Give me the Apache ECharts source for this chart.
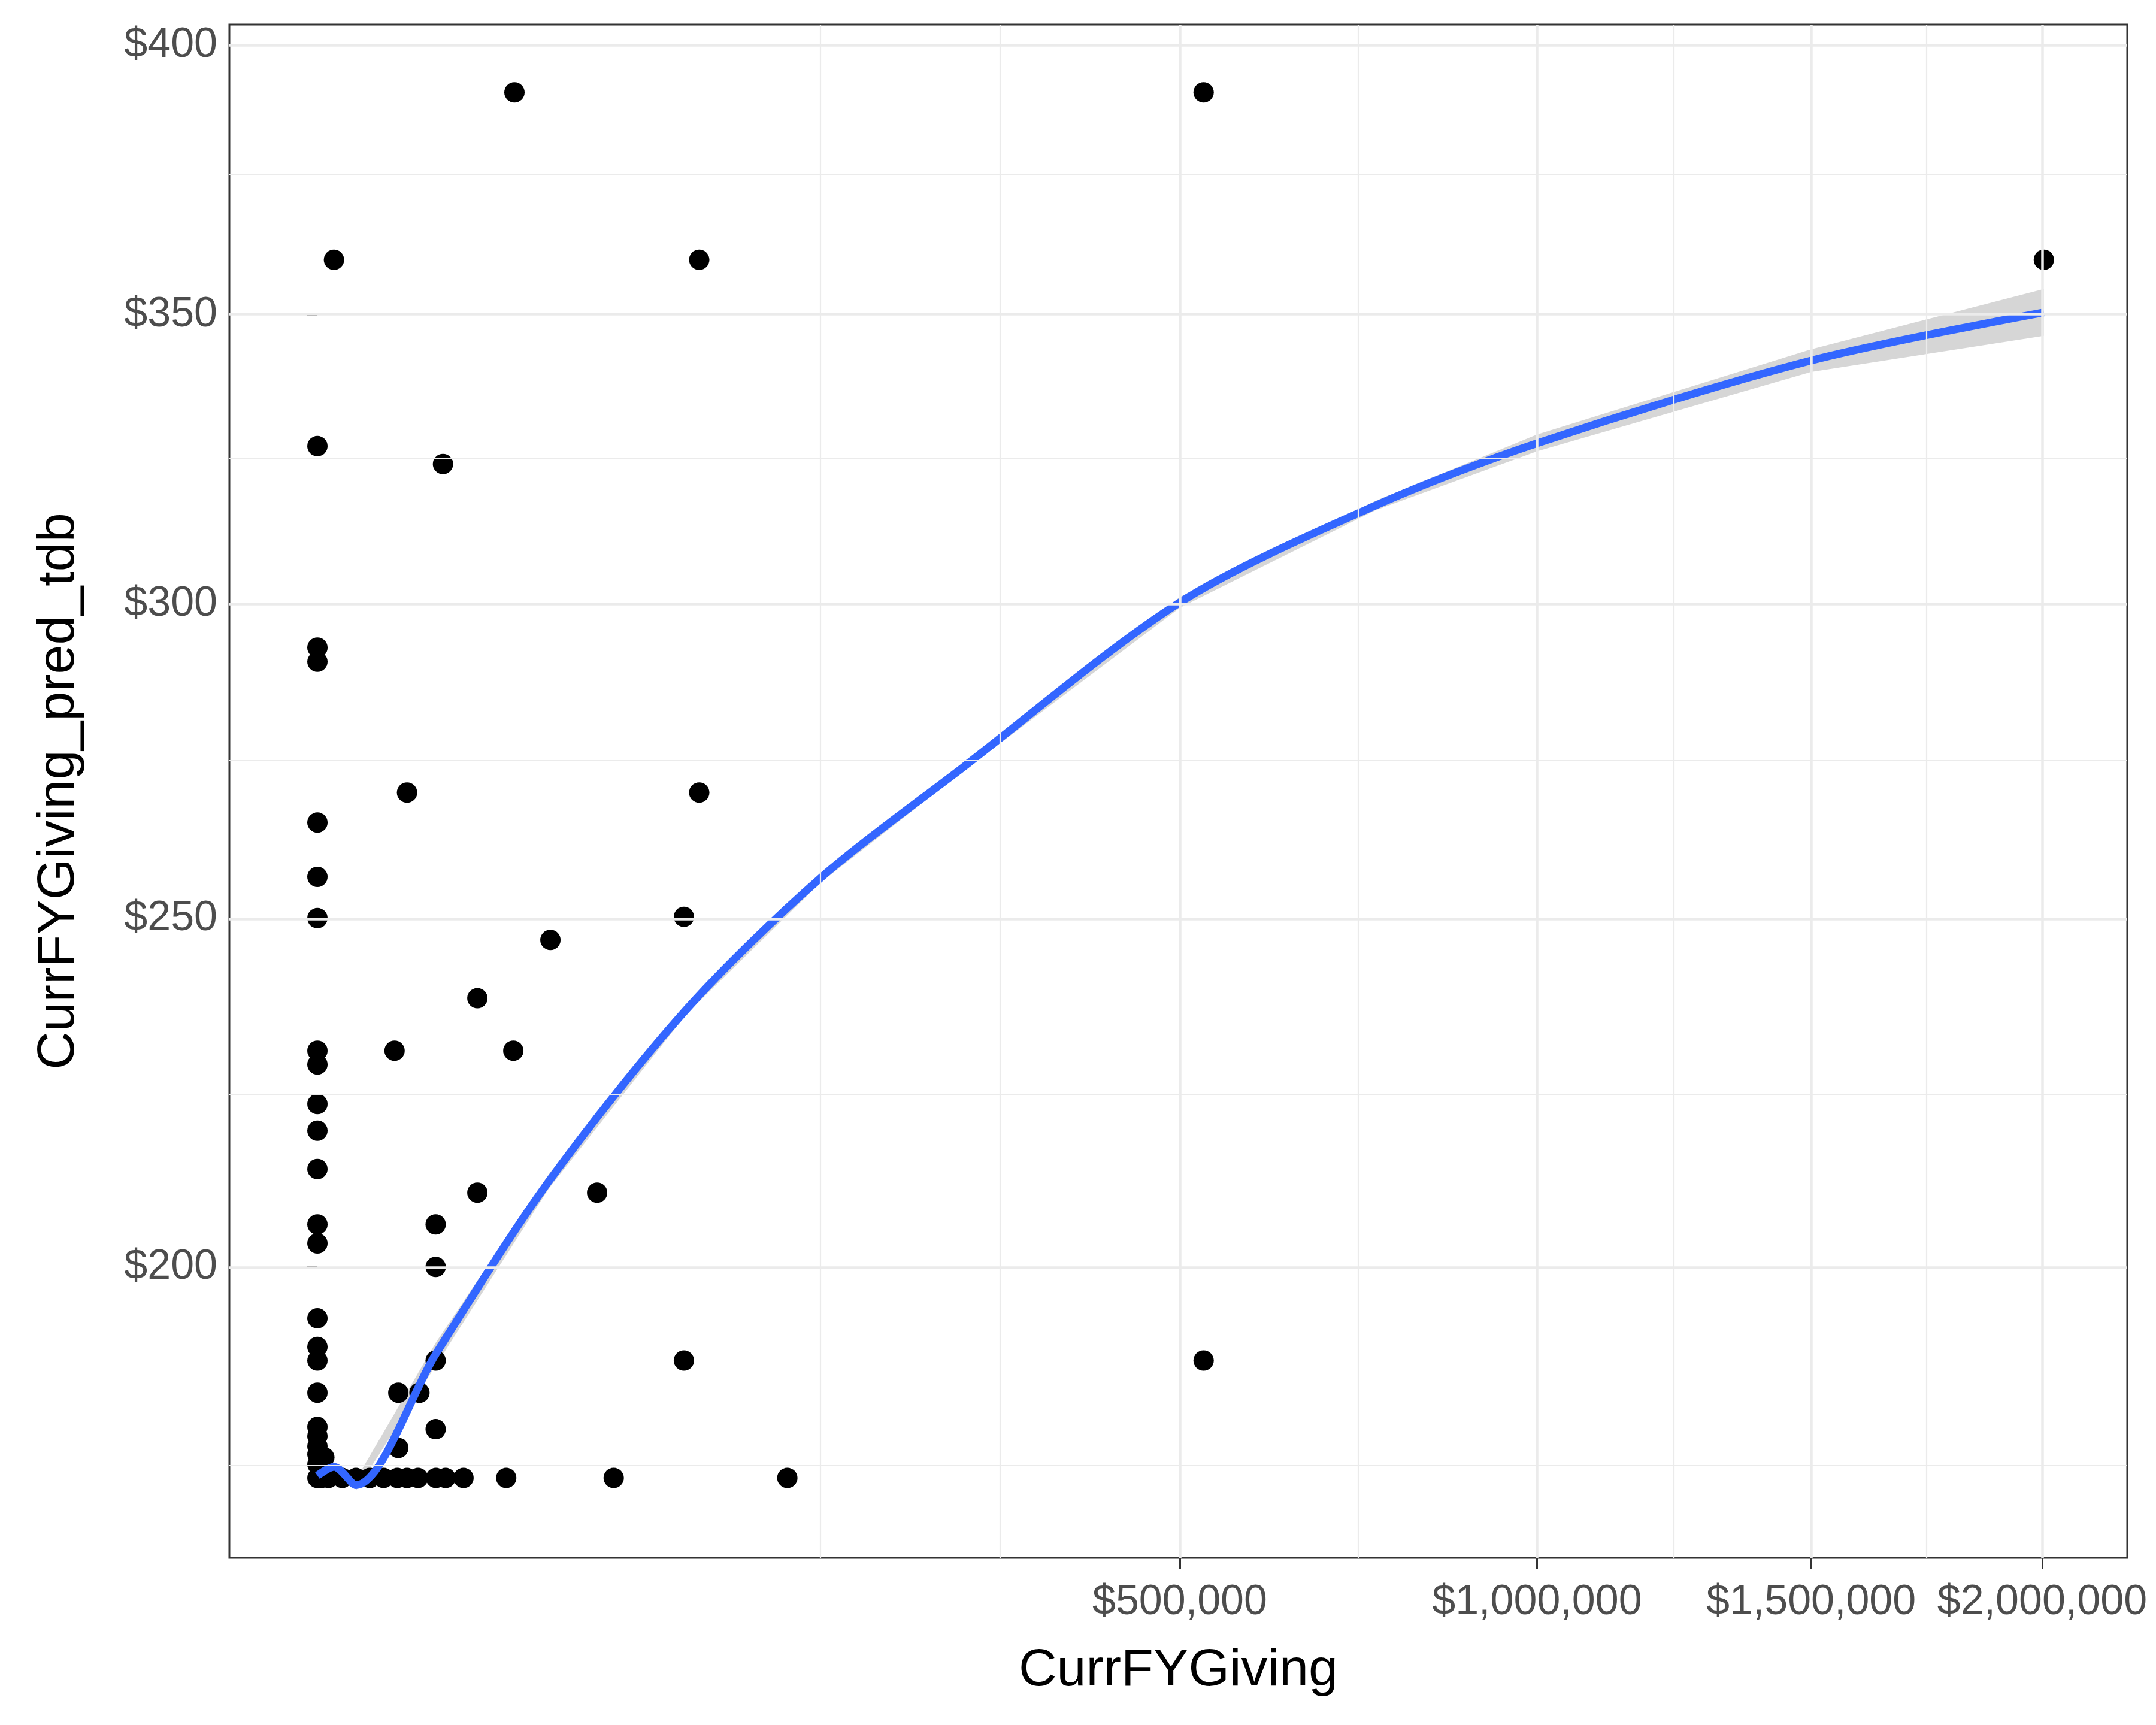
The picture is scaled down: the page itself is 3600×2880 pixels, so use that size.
<!DOCTYPE html>
<html>
<head>
<meta charset="utf-8">
<script src="https://cdn.jsdelivr.net/npm/echarts@6/dist/echarts.min.js"></script>
<style>html,body{margin:0;padding:0;background:#fff}#chart{width:3600px;height:2880px}</style>
</head>
<body>
<div id="chart"></div>
<script>
// scatter points (raw dollars)
var pointX = [0,0,0,0,0,0,0,0,0,0,0,0,0,0,0,0,0,0,0,0,0,0,0,
    184,26100,528000,98000,2004000,10600,5400,98000,36500,90300,17200,4000,25800,17200,52600,
    9400,9400,9400,90300,528000,4400,7000,9400,4400,32,
    11,82,414,1000,1844,2942,4295,5394,6804,9443,11043,14346,23964,59015,148455];
var pointY = [326.8,292.8,290.5,264.8,256.4,250.1,230.4,228.4,222.7,218.9,213.5,205.8,203.2,193.1,189.3,187.5,183.3,178.9,177.7,176.4,175.4,174.1,172.4,
    359.9,391,391,359.9,359.9,323.7,269.5,269.5,246.8,250.3,238.1,230.4,230.4,210.2,210.2,
    205.8,200,187.5,187.5,187.5,183.3,183.3,178.6,176.2,175,
    172.4,172.4,172.4,172.4,172.4,172.4,172.4,172.4,172.4,172.4,172.4,172.4,172.4,172.4,172.4];

// fitted curve
var fitX = [0,184,1000,9443,36036,91700,170100,279600,500300,753000,1000000,1500000,2004000];
var fitY = [172.7,173.8,171.5,188.4,211.8,236.5,256.2,273.4,300.3,316.6,327.3,341.8,350.4];
var bandX = [1000,9443,36036,91700,170100,279600,500300,753000,1000000,1500000,2004000];
var bandLo = [170.8,186.9,210.8,235.8,255.5,272.8,299.4,315.8,325.9,339.8,346.2];
var bandHi = [172.2,189.9,212.8,237.2,256.9,274.0,301.2,317.4,328.8,343.8,354.6];

var xTicks = [500000,1000000,1500000,2000000];
var xMinor = [170000,313000,728600,1237400,1741000];
var yTicks = [200,250,300,350,400];
var yMinor = [174,224,274.5,324.9,375.4];

var s = Math.sqrt;
function money(v) { return '$' + Math.round(v * v).toLocaleString('en-US'); }
function gl(axis, vals, w) {
    return vals.map(function (v) {
        var o = {lineStyle: {width: w}};
        o[axis] = s(v);
        return o;
    });
}

var chart = echarts.init(document.getElementById('chart'));
chart.setOption({
    animation: false,
    grid: {left: 383, right: 48, top: 41, bottom: 279, show: true, borderColor: '#333', borderWidth: 3, backgroundColor: '#fff'},
    xAxis: {
        type: 'value', min: -72.2, max: 1484,
        name: 'CurrFYGiving', nameLocation: 'middle', nameGap: 145,
        nameTextStyle: {fontFamily: 'Liberation Sans', fontSize: 88, color: '#000'},
        axisLine: {show: false}, splitLine: {show: false},
        axisTick: {show: true, customValues: xTicks.map(s), length: 18, lineStyle: {color: '#333', width: 3}},
        axisLabel: {customValues: xTicks.map(s), formatter: money, fontFamily: 'Liberation Sans', fontSize: 70, color: '#4d4d4d', margin: 40}
    },
    yAxis: {
        type: 'value', min: 12.747, max: 20.099,
        name: 'CurrFYGiving_pred_tdb', nameLocation: 'middle', nameGap: 240,
        nameTextStyle: {fontFamily: 'Liberation Sans', fontSize: 88, color: '#000'},
        axisLine: {show: false}, splitLine: {show: false},
        axisTick: {show: true, customValues: yTicks.map(s), length: 18, lineStyle: {color: '#333', width: 3}},
        axisLabel: {customValues: yTicks.map(s), formatter: money, fontFamily: 'Liberation Sans', fontSize: 70, color: '#4d4d4d', margin: 20}
    },
    series: [
        {
            type: 'line', data: [], silent: true,
            markLine: {
                silent: true, symbol: 'none', label: {show: false},
                lineStyle: {color: '#ebebeb', type: 'solid'},
                data: gl('xAxis', xTicks, 4.5).concat(gl('xAxis', xMinor, 2.2), gl('yAxis', yTicks, 4.5), gl('yAxis', yMinor, 2.2))
            }
        },
        {
            type: 'scatter', symbolSize: 34, itemStyle: {color: '#000', opacity: 1},
            data: pointX.map(function (x, i) { return [s(x), s(pointY[i])]; })
        },
        {
            type: 'custom', silent: true,
            data: [0],
            renderItem: function (params, api) {
                var pts = [];
                bandX.forEach(function (x, i) { pts.push(api.coord([s(x), s(bandHi[i])])); });
                for (var i = bandX.length - 1; i >= 0; i--) { pts.push(api.coord([s(bandX[i]), s(bandLo[i])])); }
                return {type: 'polygon', shape: {points: pts}, style: {fill: 'rgba(153,153,153,0.4)'}};
            }
        },
        {
            type: 'line', symbol: 'none', smooth: 0.3,
            lineStyle: {color: '#3366FF', width: 13},
            data: fitX.map(function (x, i) { return [s(x), s(fitY[i])]; })
        }
    ]
});
</script>
</body>
</html>
